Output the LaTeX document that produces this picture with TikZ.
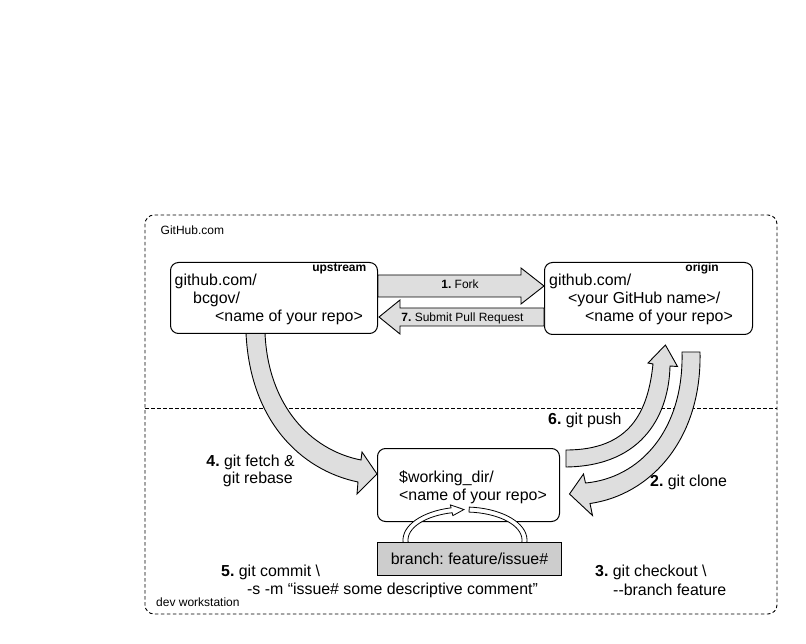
\documentclass[tikz,border=0pt]{standalone}
\usepackage{fontspec}
\setmainfont{Liberation Sans}
\definecolor{arrowgray}{HTML}{DEDEDE}
\definecolor{branchgray}{HTML}{CDCDCD}
\frenchspacing
\begin{document}
\begin{tikzpicture}[x=1pt,y=-1pt,
  lbl/.style={inner sep=0pt, anchor=base west, font=\fontsize{15.9}{18}\selectfont},
  smalltxt/.style={inner sep=0pt, anchor=base west, font=\fontsize{12}{14}\selectfont},
  box/.style={draw, rounded corners=8pt, line width=1pt, fill=white, anchor=north west, inner sep=0pt},
  blk/.style={draw, fill=arrowgray, line width=0.9pt, line join=miter},
  zone/.style={draw, dash pattern=on 3.5pt off 2.5pt, line width=0.9pt}
]
\useasboundingbox (0,0) rectangle (806,644);
\fill[white] (0,0) rectangle (806,644);

% zones
\draw[zone, rounded corners=9pt] (145,215) rectangle (777,614);
\coordinate (zl) at (145,408);
\coordinate (zr) at (777,408);
\draw[zone] (zl) -- (zr);
\node[smalltxt] (ghlbl) at (160.5,234.5) {GitHub.com};
\node[smalltxt] (devlbl) at (156,606.5) {dev workstation};

% curved block arrows
% 4. fetch & rebase
\filldraw[blk] (246,333) .. controls (250,420) and (300,470) .. (358,482)
  -- (357,494) -- (377,474) -- (362,452) -- (361,460)
  .. controls (310,450) and (268,405) .. (265,333) -- cycle;
% 6. push
\filldraw[blk] (566,450) .. controls (630,450) and (648,412) .. (653,364)
  -- (648,363) -- (665.4,345) -- (677.5,366.5) -- (670,366)
  .. controls (669,412) and (645,466) .. (566,467) -- cycle;
% 2. clone
\filldraw[blk] (700,352) .. controls (702,440) and (650,495) .. (590,503.5)
  -- (592.5,515.5) -- (569.5,494) -- (583.5,474) -- (585.5,483)
  .. controls (640,478) and (684,430) .. (682,352) -- cycle;

% boxes
\node[box, minimum width=207pt, minimum height=71pt] (up) at (170,262) {};
\node[box, minimum width=208pt, minimum height=72pt] (orig) at (544,262) {};
\node[box, minimum width=182pt, minimum height=73pt] (work) at (377,448) {};

% straight block arrows
\filldraw[blk] (up.east |- 0,275) -- (521,275) -- (521,268) -- (orig.west |- 0,286)
  -- (521,304) -- (521,297) -- (up.east |- 0,297) -- cycle;
\filldraw[blk] (orig.west |- 0,308) -- (400,308) -- (400,300) -- (379,317)
  -- (400,334) -- (400,326) -- (orig.west |- 0,326) -- cycle;
\node[smalltxt, anchor=base] (forklbl) at (460,288.5) {\textbf{1.} Fork};
\node[smalltxt, anchor=base] (prlbl) at (462.5,321.5) {\textbf{7.} Submit Pull Request};

% box texts
\node[smalltxt, anchor=base east] (uptag) at (366.5,271.5) {\textbf{upstream}};
\node[lbl] (u1) at (174.5,285.5) {github.com/};
\node[lbl] (u2) at (193,303.5) {bcgov/};
\node[lbl] (u3) at (215,321.5) {<name of your repo>};

\node[smalltxt, anchor=base east] (origtag) at (719,271.5) {\textbf{origin}};
\node[lbl] (o1) at (549,285.5) {github.com/};
\node[lbl] (o2) at (568,303.5) {<your GitHub name>/};
\node[lbl] (o3) at (585,321.5) {<name of your repo>};

\node[lbl] (w1) at (399,482) {\$working\_dir/};
\node[lbl] (w2) at (399,500) {<name of your repo>};

% loop arrow
\filldraw[fill=white, line width=0.8pt, line join=miter]
  plot[domain=-86:257, samples=70] ({465+62*cos(\x)}, {540+33*sin(\x)})
  -- ({465+65*cos(257)}, {540+36*sin(257)})
  -- ({465+59.5*cos(269)}, {540+30.5*sin(269)})
  -- ({465+54*cos(257)}, {540+25*sin(257)})
  -- plot[domain=257:-86, samples=70] ({465+57*cos(\x)}, {540+28*sin(\x)})
  -- cycle;

% branch box
\node[draw, fill=branchgray, line width=1pt, anchor=north west, inner sep=0pt,
  minimum width=184pt, minimum height=33pt, font=\fontsize{15.9}{18}\selectfont]
  (branch) at (377,542) {branch: feature/issue\#};

% step labels
\node[lbl, anchor=base east] (l4a) at (295,466) {\textbf{4.} git fetch \&};
\node[lbl, anchor=base east] (l4b) at (293,483.5) {git rebase};
\node[lbl] (l6) at (548,424) {\textbf{6.} git push};
\node[lbl] (l2) at (650,486) {\textbf{2.} git clone};
\node[lbl] (l5a) at (221,576) {\textbf{5.} git commit \textbackslash};
\node[lbl] (l5b) at (247,594) {-s -m “issue\# some descriptive comment”};
\node[lbl] (l3a) at (595,576.5) {\textbf{3.} git checkout \textbackslash};
\node[lbl] (l3b) at (613,595) {-{}-branch feature};
\end{tikzpicture}
\end{document}
